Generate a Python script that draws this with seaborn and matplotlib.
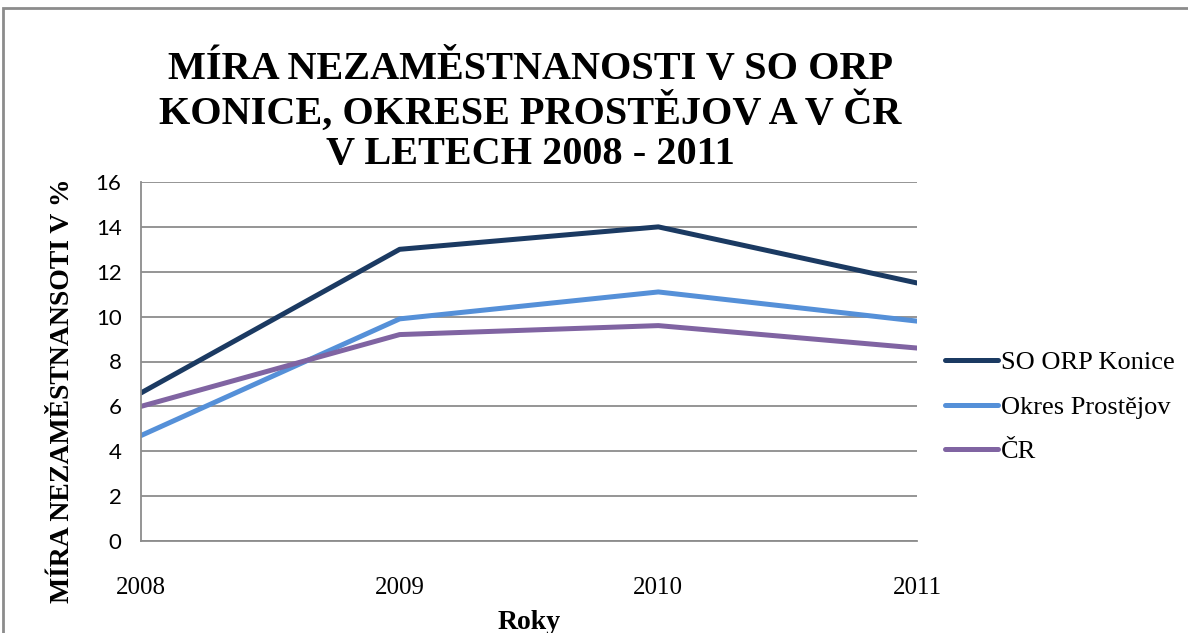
import matplotlib
matplotlib.use("Agg")
import matplotlib.pyplot as plt
import matplotlib.patches as mpatches
import pandas as pd
import seaborn as sns

# data
years = [2008, 2009, 2010, 2011]
konice = [6.6, 13.0, 14.0, 11.5]
prostejov = [4.7, 9.9, 11.1, 9.8]
cr = [6.0, 9.2, 9.6, 8.6]
series_names = ["SO ORP Konice", "Okres Prostějov", "ČR"]
colors = ["#1B3A62", "#5590D8", "#8064A2"]

df = pd.DataFrame({
    "Rok": years * 3,
    "Hodnota": konice + prostejov + cr,
    "Serie": [series_names[0]] * 4 + [series_names[1]] * 4 + [series_names[2]] * 4,
})

sns.set_style("white")
plt.rcParams["text.color"] = "black"
plt.rcParams["axes.labelcolor"] = "black"
plt.rcParams["xtick.color"] = "black"
plt.rcParams["ytick.color"] = "black"
serif = ["Liberation Serif", "DejaVu Serif"]

fig = plt.figure(figsize=(11.88, 6.33), dpi=100)
ax = fig.add_axes([141 / 1188, 1 - 541 / 633, (917 - 141) / 1188, (541 - 182) / 633])

sns.lineplot(data=df, x="Rok", y="Hodnota", hue="Serie", palette=colors,
             linewidth=3.6, ax=ax, legend=True)

ax.set_xlim(2008, 2011)
ax.set_ylim(0, 16)
ax.set_xticks(years)
ax.set_yticks(range(0, 17, 2))
ax.yaxis.grid(True, color="#8C8C8C", linewidth=1.3)
ax.set_axisbelow(True)
for s in ["top", "right"]:
    ax.spines[s].set_visible(False)
for s in ["left", "bottom"]:
    ax.spines[s].set_color("#8C8C8C")
    ax.spines[s].set_linewidth(1.3)
ax.tick_params(axis="both", which="both", direction="out", length=6,
               color="#8C8C8C", width=1.3, labelcolor="black")
ax.tick_params(axis="y", pad=8)
ax.tick_params(axis="x", pad=20)
for lbl in ax.get_yticklabels():
    lbl.set_fontfamily(["Lato", "DejaVu Sans"])
    lbl.set_fontsize(16)
for lbl in ax.get_xticklabels():
    lbl.set_fontfamily(serif)
    lbl.set_fontsize(18)

ax.set_xlabel("Roky", family=serif, fontsize=20, fontweight="bold", labelpad=8)
ax.set_ylabel("MÍRA NEZAMĚSTNANSOTI V %", family=serif, fontsize=20,
              fontweight="bold")
ax.yaxis.set_label_coords(-0.085, 0.42)

fig.text(530 / 1188, 1 - 112 / 633,
         "MÍRA NEZAMĚSTNANOSTI V SO ORP\nKONICE, OKRESE PROSTĚJOV A V ČR\nV LETECH 2008 - 2011",
         ha="center", va="center", family=serif, fontsize=29, fontweight="bold",
         linespacing=1.12)

handles, labels = ax.get_legend_handles_labels()
leg = ax.legend(handles, labels, loc="center left", bbox_to_anchor=(1.006, 0.373),
                frameon=False, prop={"family": serif, "size": 19},
                handlelength=2.0, handletextpad=0.1, labelspacing=0.8)
for line in leg.get_lines():
    line.set_solid_capstyle("round")

# frame around the chart area
fig.patches.append(mpatches.Rectangle((3 / 1188, -0.1), 1.2, 1 - 8 / 633 + 0.1,
                                      transform=fig.transFigure, fill=False,
                                      edgecolor="#8C8C8C", linewidth=2))

fig.savefig("out.png", dpi=100)
